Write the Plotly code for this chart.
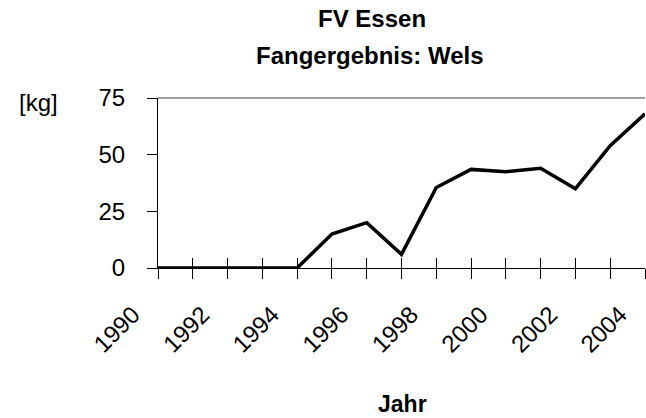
import plotly.graph_objects as go

years = list(range(1990, 2005))
catch_kg = [0, 0, 0, 0, 0, 15, 20, 6, 35.5, 43.5, 42.5, 44, 35, 54, 68]
y_ticks = [0, 25, 50, 75]
title_line1 = "FV Essen"
title_line2 = "Fangergebnis: Wels"
x_title = "Jahr"
y_title = "[kg]"

FONT = "Liberation Sans, Arial, sans-serif"
W, H = 646, 418
L, R, T, B = 158, 1, 98, 150
pw, ph = W - L - R, H - T - B

def px_x(p):
    return (p - L) / pw

def px_y(p):
    return (H - B - p) / ph

fig = go.Figure()
fig.add_trace(go.Scatter(x=years, y=catch_kg, mode="lines",
                         line=dict(color="black", width=3.5),
                         hoverinfo="skip", showlegend=False))
fig.add_trace(go.Scatter(x=years, y=catch_kg, mode="lines", xaxis="x2",
                         line=dict(color="rgba(0,0,0,0)", width=0),
                         hoverinfo="skip", showlegend=False))

fig.update_layout(
    template="none",
    width=W, height=H,
    margin=dict(l=L, r=R, t=T, b=B, autoexpand=False),
    paper_bgcolor="white", plot_bgcolor="white",
    font=dict(family=FONT, color="black", size=24),
    xaxis=dict(range=[1990, 2004], tick0=1990, dtick=2, automargin=False,
               ticks="outside", ticklen=10, tickwidth=1, tickcolor="black",
               minor=dict(dtick=1, tick0=1990, ticks="outside", ticklen=10,
                          tickwidth=1, tickcolor="black", showgrid=False),
               tickangle=-45, tickfont=dict(size=24, family=FONT),
               ticklabelshift=-25, ticklabelstandoff=12,
               showline=True, linecolor="black", linewidth=1,
               showgrid=False, zeroline=False, fixedrange=True),
    xaxis2=dict(range=[1990, 2004], overlaying="x", anchor="y", side="bottom",
                tick0=1990, dtick=1, ticks="inside", ticklen=10, tickwidth=1,
                tickcolor="black", showticklabels=False, showline=False,
                showgrid=False, zeroline=False, automargin=False),
    yaxis=dict(range=[0, 75], tickvals=y_ticks, ticks="outside", ticklen=10,
               tickwidth=1, tickcolor="black", ticklabelstandoff=17,
               tickfont=dict(size=24, family=FONT), automargin=False,
               showline=True, linecolor="black", linewidth=1,
               showgrid=False, zeroline=False),
    shapes=[dict(type="line", xref="paper", yref="paper", x0=0, x1=1, y0=1, y1=1,
                 line=dict(color="#808080", width=1.5))],
    annotations=[
        dict(text="<b>" + title_line1 + "</b>", xref="paper", yref="paper",
             x=px_x(372), y=px_y(18.5), xanchor="center", yanchor="middle",
             showarrow=False, font=dict(size=24, family=FONT)),
        dict(text="<b>" + title_line2 + "</b>", xref="paper", yref="paper",
             x=px_x(370), y=px_y(55), xanchor="center", yanchor="middle",
             showarrow=False, font=dict(size=24, family=FONT)),
        dict(text="<b>" + x_title + "</b>", xref="paper", yref="paper",
             x=px_x(402), y=px_y(404), xanchor="center", yanchor="middle",
             showarrow=False, font=dict(size=23, family=FONT)),
        dict(text=y_title, xref="paper", yref="paper",
             x=px_x(38), y=px_y(102), xanchor="center", yanchor="middle",
             showarrow=False, font=dict(size=24, family=FONT)),
    ],
)

fig.write_html(
    "out.html",
    config={"displayModeBar": False, "staticPlot": True},
    post_script="document.body.style.margin='0';document.body.style.overflow='hidden';",
)
